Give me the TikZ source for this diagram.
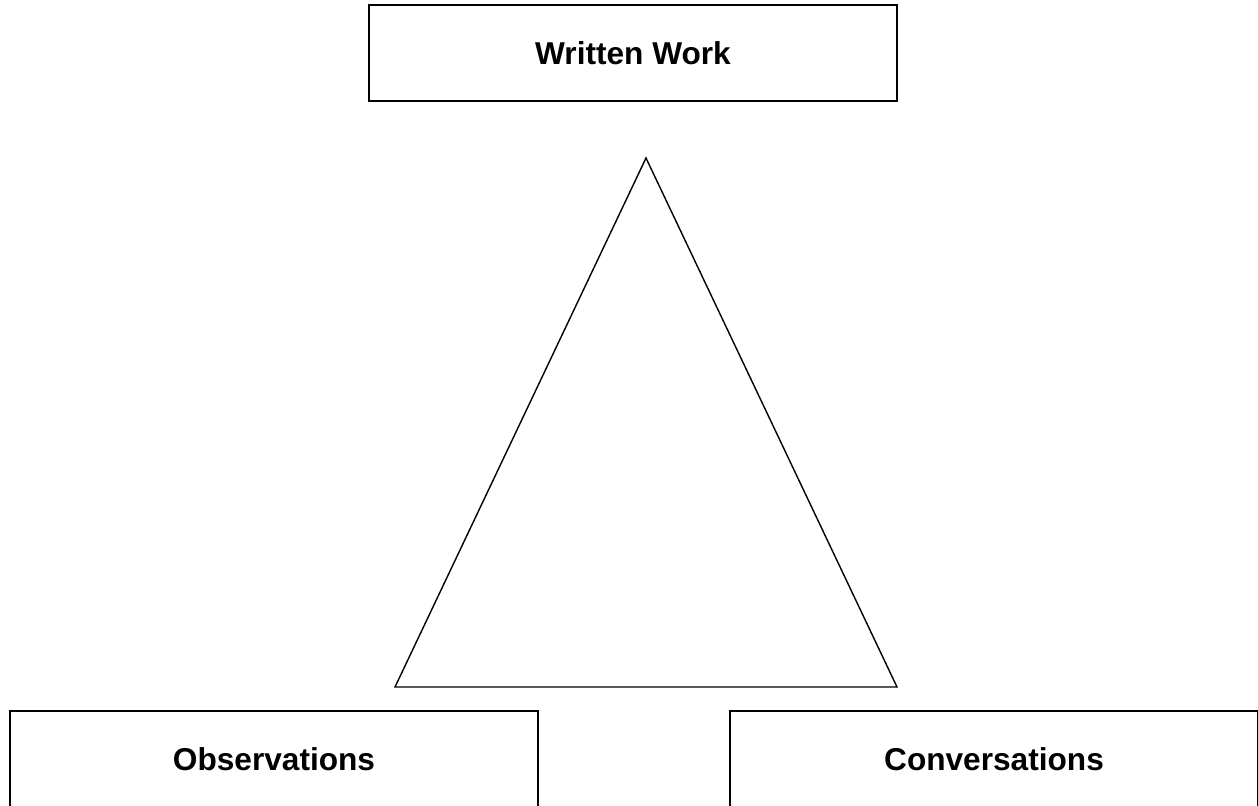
\documentclass[tikz,border=0pt]{standalone}
\usepackage{fontspec}
\setmainfont{Liberation Sans}
\begin{document}
\begin{tikzpicture}[x=0.02cm,y=-0.02cm,every node/.style={font=\bfseries\fontsize{18}{22}\selectfont},box/.style={draw,line width=1.1pt,fill=white,minimum width=10.56cm,minimum height=1.92cm,inner sep=0pt},side/.style={line width=0.8pt,line join=miter}]
    \useasboundingbox (0,0) rectangle (1258,805);
    \node[box] (written) at (633,53) {Written Work};
    \foreach \x/\mname/\mtext in {274/observ/Observations,994/convers/Conversations} \path node[box] (\mname) at (\x,759) {\mtext};
    % tam giac
    \coordinate (apex) at (646,158);
    \coordinate (baseL) at (395,687);
    \coordinate (baseR) at (897,687);
    \draw[side] (apex)--(baseL)--(baseR)--cycle;
\end{tikzpicture}
\end{document}
